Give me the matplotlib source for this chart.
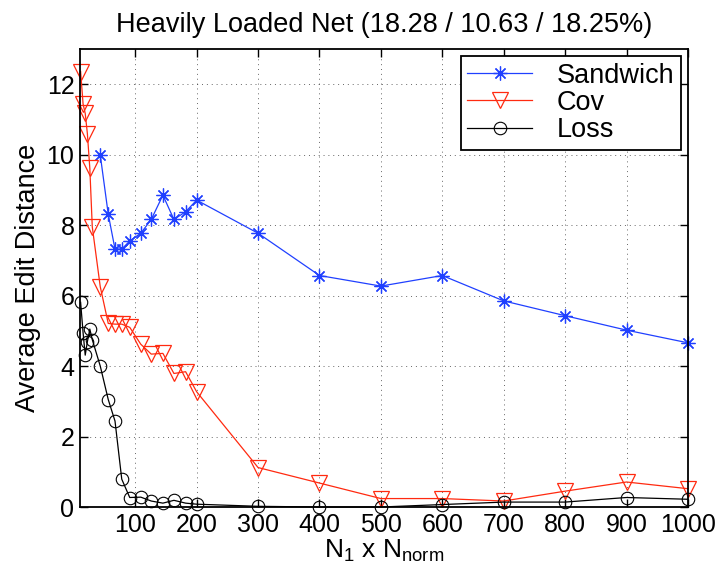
import matplotlib
matplotlib.use("Agg")
import matplotlib.pyplot as plt

plt.rcParams['font.family'] = ['Liberation Sans', 'DejaVu Sans']
plt.rcParams['mathtext.default'] = 'regular'

# x positions (N1 x Nnorm)
x_cov = [11, 15, 18.5, 22, 26, 30, 43, 56, 67, 78, 91, 109, 126, 145, 163, 182, 200,
         300, 400, 500, 600, 700, 800, 900, 1000]
x_sand = x_cov[6:]

sandwich = [9.99, 8.31, 7.32, 7.32, 7.55, 7.77, 8.16, 8.85, 8.16, 8.38, 8.71,
            7.77, 6.57, 6.27, 6.57, 5.85, 5.43, 5.02, 4.66]
cov = [12.36, 11.44, 11.17, 10.6, 9.61, 7.95, 6.25, 5.21, 5.19, 5.19, 5.1, 4.62,
       4.34, 4.36, 3.79, 3.84, 3.27, 1.12, 0.68, 0.24, 0.24, 0.17, 0.45, 0.71, 0.52]
loss = [5.81, 4.95, 4.31, 4.69, 5.05, 4.75, 4.0, 3.05, 2.44, 0.79, 0.27, 0.28,
        0.17, 0.11, 0.19, 0.11, 0.08, 0.02, 0.0, 0.0, 0.07, 0.14, 0.14, 0.27, 0.22]

xticks = [100, 200, 300, 400, 500, 600, 700, 800, 900, 1000]
yticks = [0, 2, 4, 6, 8, 10, 12]

fig = plt.figure(figsize=(7.22, 5.74), dpi=100)
ax = fig.add_axes([0.1108, 0.1167, 0.842, 0.798])

ax.plot(x_sand, sandwich, color='#2040ff', lw=0.9, marker=(8, 2, 0), ms=10,
        mew=0.9, label='Sandwich', clip_on=False)
ax.plot(x_cov, cov, color='#ff2a10', lw=0.9, marker='v', ms=11, mfc='none',
        mew=0.9, label='Cov', clip_on=False)
ax.plot(x_cov, loss, color='black', lw=0.9, marker='o', ms=9, mfc='none',
        mew=0.8, label='Loss', clip_on=False)

ax.set_xlim(10, 1000)
ax.set_ylim(0, 13)
ax.set_xticks(xticks)
ax.set_yticks(yticks)
ax.tick_params(direction='in', top=True, right=True, labelsize=18, length=6,
               width=1, pad=4)
ax.grid(True, linestyle=(0, (1, 4)), color='black', lw=0.7, alpha=0.6)
for s in ax.spines.values():
    s.set_linewidth(1.3)

ax.set_title('Heavily Loaded Net (18.28 / 10.63 / 18.25%)', fontsize=19.5, pad=12)
ax.set_xlabel(r'N$_1$ x N$_{norm}$', fontsize=19, labelpad=1)
ax.set_ylabel('Average Edit Distance', fontsize=19.5, labelpad=4)

leg = ax.legend(loc='upper right', fontsize=19.5, fancybox=False, framealpha=1,
                edgecolor='black', borderaxespad=0.25, handlelength=2.4,
                labelspacing=0.05, borderpad=0.25, handletextpad=0.9)
leg.get_frame().set_linewidth(1.3)

fig.savefig('out.png', dpi=100)
